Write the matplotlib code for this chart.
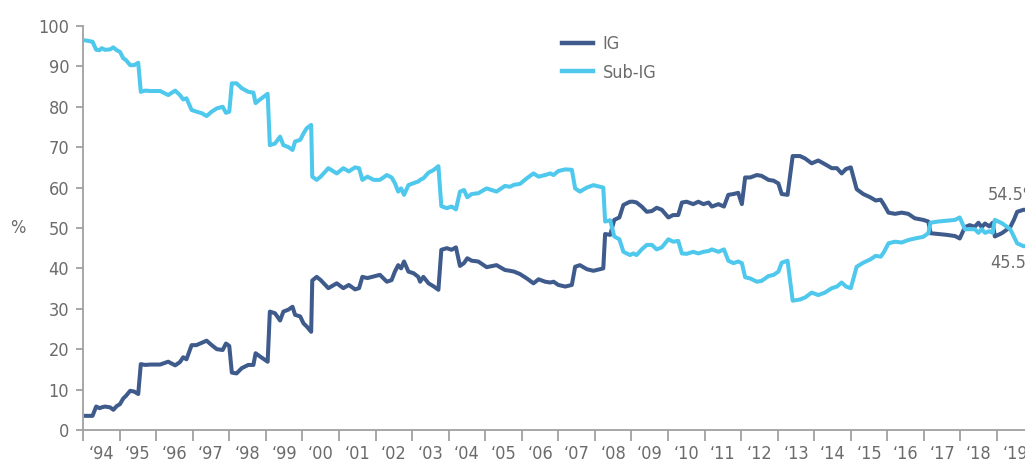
import matplotlib
matplotlib.use("Agg")
import matplotlib.pyplot as plt
from matplotlib import font_manager
from matplotlib.ticker import FixedLocator, NullFormatter

# ── data (decimal years) ──────────────────────────────────────────────────────
years = [
    1994.08, 1994.26, 1994.36, 1994.45, 1994.51, 1994.60, 1994.74, 1994.83, 1994.92,
    1995.01, 1995.10, 1995.17, 1995.29, 1995.40, 1995.51, 1995.58, 1995.70, 1995.85,
    1996.11, 1996.33, 1996.52, 1996.65, 1996.74, 1996.83, 1996.97,
    1997.10, 1997.25, 1997.38, 1997.52, 1997.66, 1997.82, 1997.91,
    1998.00, 1998.07, 1998.20, 1998.34, 1998.52, 1998.66, 1998.72, 1998.84,
    1999.05, 1999.11, 1999.25, 1999.39, 1999.48, 1999.62, 1999.73, 1999.80, 1999.94,
    2000.03, 2000.12, 2000.24, 2000.27, 2000.39, 2000.50, 2000.71, 2000.94,
    2001.12, 2001.27, 2001.44, 2001.55, 2001.64, 2001.78, 2001.95,
    2002.12, 2002.31, 2002.44, 2002.53, 2002.62, 2002.70, 2002.78, 2002.90,
    2003.04, 2003.17, 2003.22, 2003.31, 2003.45, 2003.58, 2003.72, 2003.80, 2003.95,
    2004.08, 2004.20, 2004.31, 2004.42, 2004.51, 2004.63, 2004.81,
    2005.04, 2005.31, 2005.54, 2005.68, 2005.79, 2005.95,
    2006.14, 2006.32, 2006.46, 2006.64, 2006.78, 2006.87,
    2007.00, 2007.19, 2007.37, 2007.46, 2007.59, 2007.78, 2007.96,
    2008.14, 2008.23, 2008.28, 2008.42, 2008.53, 2008.67, 2008.78, 2008.96,
    2009.05, 2009.14, 2009.28, 2009.42, 2009.56, 2009.69, 2009.83,
    2010.01, 2010.14, 2010.28, 2010.38, 2010.51, 2010.69, 2010.83, 2010.97,
    2011.11, 2011.20, 2011.38, 2011.53, 2011.65, 2011.79, 2011.92,
    2012.02, 2012.11, 2012.25, 2012.43, 2012.56, 2012.75, 2012.89,
    2013.02, 2013.11, 2013.27, 2013.41, 2013.61, 2013.75, 2013.93,
    2014.11, 2014.29, 2014.48, 2014.62, 2014.75, 2014.87,
    2015.00, 2015.16, 2015.34, 2015.53, 2015.68, 2015.82, 2015.91,
    2016.03, 2016.21, 2016.39, 2016.57, 2016.75, 2016.98,
    2017.12, 2017.18, 2017.39, 2017.62, 2017.85, 2017.98,
    2018.12, 2018.25, 2018.39, 2018.49, 2018.58, 2018.67, 2018.79, 2018.88, 2018.94,
    2019.13, 2019.36, 2019.46, 2019.55, 2019.72, 2019.80,
]

sub_ig = [
    96.4, 96.1, 94.1, 94.0, 94.5, 94.1, 94.2, 94.7, 94.0,
    93.6, 92.0, 91.6, 90.3, 90.3, 90.9, 83.7, 84.0, 83.9,
    83.9, 82.9, 84.0, 82.9, 81.8, 82.1, 79.2,
    78.8, 78.4, 77.7, 78.8, 79.6, 80.0, 78.5,
    78.8, 85.8, 85.8, 84.6, 83.7, 83.5, 80.9, 81.8,
    83.2, 70.5, 70.9, 72.6, 70.5, 70.0, 69.3, 71.4, 71.8,
    73.4, 74.7, 75.5, 62.7, 61.9, 62.7, 64.8, 63.5,
    64.8, 64.0, 65.0, 64.8, 61.9, 62.7, 61.9,
    61.9, 63.1, 62.5, 61.1, 59.0, 59.8, 58.2, 60.6,
    61.1, 61.5, 61.9, 62.3, 63.7, 64.3, 65.3, 55.4, 54.9,
    55.3, 54.6, 59.0, 59.4, 57.6, 58.4, 58.6,
    59.8, 59.0, 60.4, 60.2, 60.7, 60.9,
    62.3, 63.5, 62.7, 63.1, 63.5, 63.1,
    64.1, 64.5, 64.4, 59.8, 59.0, 60.0, 60.6,
    60.2, 60.0, 51.6, 51.9, 47.9, 47.2, 44.1, 43.3,
    43.7, 43.3, 44.7, 45.8, 45.8, 44.7, 45.2,
    47.2, 46.6, 46.8, 43.7, 43.6, 44.1, 43.7, 44.1,
    44.3, 44.7, 44.1, 44.7, 41.9, 41.3, 41.7,
    41.3, 37.8, 37.5, 36.7, 36.9, 38.1, 38.4,
    39.2, 41.4, 41.9, 32.0, 32.3, 32.8, 34.0,
    33.4, 34.0, 35.1, 35.5, 36.5, 35.5,
    35.1, 40.4, 41.4, 42.2, 43.1, 42.9, 44.1,
    46.2, 46.6, 46.4, 47.0, 47.4, 47.8,
    48.7, 51.3, 51.6, 51.8, 52.0, 52.6,
    49.7, 49.7, 49.7, 48.8, 49.7, 48.8, 49.2, 48.8, 52.0,
    51.2, 49.7, 47.9, 46.2, 45.5, 45.5,
]

ig = [
    3.5, 3.5, 5.8, 5.4, 5.6, 5.8, 5.6, 5.0, 5.9,
    6.4, 7.8, 8.4, 9.7, 9.5, 8.9, 16.3, 16.1, 16.2,
    16.2, 16.9, 16.0, 16.8, 18.0, 17.5, 21.0,
    21.0, 21.6, 22.1, 21.0, 20.0, 19.8, 21.4,
    20.8, 14.2, 14.0, 15.3, 16.1, 16.1, 19.0, 18.2,
    16.9, 29.3, 28.9, 27.1, 29.3, 29.8, 30.5, 28.5, 28.1,
    26.4, 25.6, 24.3, 37.0, 37.9, 37.1, 35.1, 36.3,
    35.1, 35.9, 34.8, 35.1, 37.9, 37.6, 38.0,
    38.4, 36.7, 37.1, 39.2, 40.8, 40.0, 41.7, 39.2,
    38.8, 37.9, 36.7, 37.9, 36.3, 35.6, 34.7, 44.6, 45.0,
    44.6, 45.2, 40.6, 41.3, 42.5, 41.9, 41.7,
    40.3, 40.8, 39.6, 39.4, 39.2, 38.6,
    37.5, 36.3, 37.3, 36.7, 36.5, 36.7,
    35.9, 35.5, 35.9, 40.4, 40.8, 39.8, 39.4,
    39.8, 40.0, 48.5, 48.3, 52.0, 52.6, 55.7, 56.5,
    56.5, 56.3, 55.3, 54.0, 54.2, 55.0, 54.5,
    52.6, 53.2, 53.2, 56.3, 56.5, 55.9, 56.5, 55.9,
    56.3, 55.3, 55.9, 55.3, 58.2, 58.4, 58.7,
    55.9, 62.5, 62.5, 63.1, 62.9, 61.9, 61.7,
    61.0, 58.4, 58.2, 67.8, 67.8, 67.2, 66.0,
    66.7, 65.8, 64.8, 64.8, 63.5, 64.6,
    65.0, 59.6, 58.4, 57.6, 56.8, 57.0, 55.7,
    53.8, 53.5, 53.8, 53.5, 52.4, 52.0,
    51.6, 48.7, 48.5, 48.3, 48.0, 47.4,
    50.2, 50.7, 50.3, 51.3, 50.2, 51.1, 50.4, 51.3, 47.9,
    48.7, 50.2, 52.0, 54.0, 54.5, 54.5,
]

year_ticks = list(range(1994, 2021))
year_labels = [f"\u2018{y % 100:02d}" for y in range(1994, 2020)]
y_ticks = list(range(0, 101, 10))

IG_COLOR = "#3e5b8c"
SUB_COLOR = "#4ec8ec"
GREY = "#6b6b6b"
AXIS = "#a0a0a0"


# ── font: prefer a condensed sans if one is installed ─────────────────────────
def pick_font():
    prefer = ["Liberation Sans Narrow", "Roboto", "Open Sans", "Noto Sans",
              "DejaVu Sans", "Lato", "Inter"]
    narrow = {}
    for f in font_manager.fontManager.ttflist:
        if f.style != "normal" or f.weight not in (400, "normal", "regular", "book"):
            continue
        if f.stretch in ("condensed", "semi-condensed") or "Narrow" in f.name \
                or "Condensed" in f.name:
            narrow.setdefault(f.name, f.stretch)
    for name in prefer:
        if name in narrow:
            return name, narrow[name]
    if narrow:
        name = sorted(narrow)[0]
        return name, narrow[name]
    return "Roboto", "normal"


FONT, STRETCH = pick_font()
plt.rcParams["font.family"] = [FONT, "DejaVu Sans"]
plt.rcParams["font.stretch"] = STRETCH
FS = 13 if STRETCH != "normal" or "Narrow" in FONT else 12

# ── figure ────────────────────────────────────────────────────────────────────
fig = plt.figure(figsize=(10.25, 4.62), dpi=100)
ax = fig.add_axes([0.081, 0.0693, 0.9274, 0.8745])

ax.plot(years, ig, color=IG_COLOR, lw=2.9, label="IG", solid_joinstyle="round")
ax.plot(years, sub_ig, color=SUB_COLOR, lw=2.9, label="Sub-IG", solid_joinstyle="round")

ax.set_xlim(1994, 2020)
ax.set_ylim(0, 100)

for s in ("top", "right"):
    ax.spines[s].set_visible(False)
for s in ("left", "bottom"):
    ax.spines[s].set_color(AXIS)
    ax.spines[s].set_linewidth(1.3)

ax.xaxis.set_major_locator(FixedLocator(year_ticks))
ax.xaxis.set_major_formatter(NullFormatter())
ax.xaxis.set_minor_locator(FixedLocator([y + 0.5 for y in range(1994, 2020)]))
ax.set_xticklabels(year_labels, minor=True)
ax.tick_params(axis="x", which="major", length=8, width=1.3, color=AXIS, direction="out")
ax.tick_params(axis="x", which="minor", length=0, pad=11, labelsize=FS, labelcolor=GREY)

ax.set_yticks(y_ticks)
ax.tick_params(axis="y", length=5, width=1.3, color=AXIS, pad=5,
               labelsize=FS, labelcolor=GREY)

fig.text(0.017, (462 - 228) / 462, "%", fontsize=FS, color=GREY, ha="center", va="center")

ax.text(2018.75, ig[-1] + 3.7, f"{ig[-1]}%", fontsize=FS, color=GREY, va="center", ha="left")
ax.text(2018.8, sub_ig[-1] - 4.2, f"{sub_ig[-1]}%", fontsize=FS, color=GREY, va="center", ha="left")

leg = ax.legend(loc="upper left", bbox_to_anchor=(0.504, 0.977), frameon=False,
                borderpad=0, borderaxespad=0, fontsize=FS, handlelength=1.7,
                handletextpad=0.55, labelspacing=0.58)
for t in leg.get_texts():
    t.set_color(GREY)
for h in leg.get_lines():
    h.set_linewidth(3.2)

fig.savefig("out.png", dpi=100)
